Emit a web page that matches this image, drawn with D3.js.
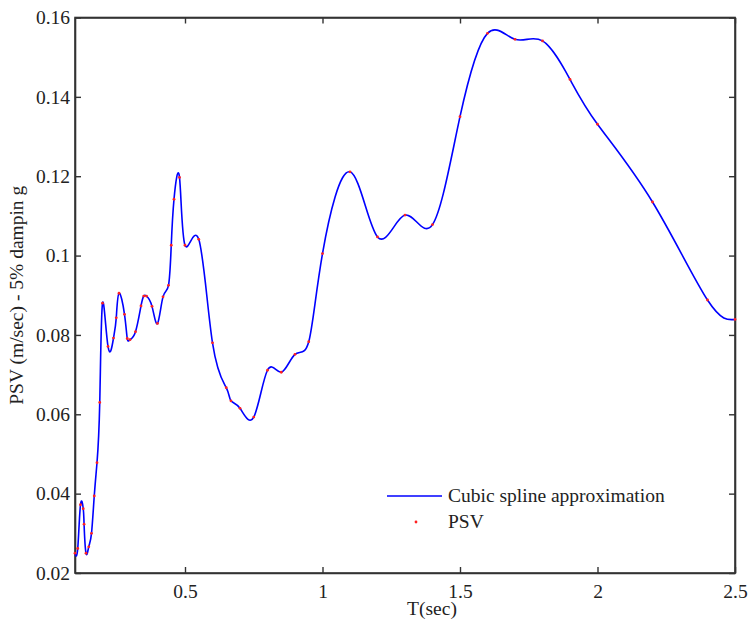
<!DOCTYPE html>
<html>
<head>
<meta charset="utf-8">
<script src="https://cdn.jsdelivr.net/npm/d3@7"></script>
<style>
  body { margin: 0; background: #fff; }
  text { font-family: "Liberation Serif", "Times New Roman", serif; fill: #222; }
</style>
</head>
<body>
<div id="chart-area"></div>
<script>
// period (sec) and pseudo spectral velocity (m/sec), 5% damping
const periods = [0.1, 0.11, 0.12, 0.13, 0.133, 0.14, 0.15, 0.16, 0.17, 0.18, 0.19,
  0.2, 0.22, 0.24, 0.25, 0.26, 0.28, 0.29, 0.3, 0.32, 0.34, 0.35, 0.36, 0.38, 0.4,
  0.42, 0.44, 0.45, 0.46, 0.48, 0.5, 0.55, 0.6, 0.65, 0.667, 0.7, 0.75, 0.8, 0.85,
  0.9, 0.95, 1, 1.1, 1.2, 1.3, 1.4, 1.5, 1.6, 1.7, 1.8, 1.9, 2, 2.2, 2.4, 2.5]
const psv = [0.025, 0.0262, 0.0372, 0.0362, 0.0323, 0.025, 0.0266, 0.030, 0.0394, 0.0478, 0.063,
  0.088, 0.0771, 0.0792, 0.0843, 0.0905, 0.0852, 0.0791, 0.0788, 0.0808, 0.0873, 0.0898, 0.0898, 0.0872, 0.0829,
  0.0896, 0.0925, 0.1026, 0.1142, 0.1197, 0.1026, 0.1041, 0.078, 0.0667, 0.0634, 0.0615, 0.0593, 0.0711, 0.0706,
  0.0751, 0.0783, 0.1005, 0.1211, 0.1047, 0.1102, 0.1078, 0.135, 0.156, 0.1545, 0.1541, 0.1444, 0.1331, 0.1135, 0.0888, 0.0839]

const xTicks = [0.5, 1, 1.5, 2, 2.5]
const yTicks = [0.02, 0.04, 0.06, 0.08, 0.1, 0.12, 0.14, 0.16]
const legendLabels = ["Cubic spline approximation", "PSV"]

const MARGIN = { LEFT: 75, RIGHT: 15, TOP: 17.5, BOTTOM: 48 }
const WIDTH = 750 - MARGIN.LEFT - MARGIN.RIGHT
const HEIGHT = 621 - MARGIN.TOP - MARGIN.BOTTOM
const TICK = 6
const FONT = 19.5

const data = periods.map((t, i) => ({ t: t, v: psv[i] }))

const svg = d3.select("#chart-area").append("svg")
  .attr("width", 750)
  .attr("height", 621)

const g = svg.append("g")
  .attr("transform", `translate(${MARGIN.LEFT}, ${MARGIN.TOP})`)

// scales
const x = d3.scaleLinear().domain([0.1, 2.5]).range([0, WIDTH])
const y = d3.scaleLinear().domain([0.02, 0.16]).range([HEIGHT, 0])

const fmt = d => String(d)

// axes, ticks pointing inwards on all four sides
g.append("g")
  .attr("transform", `translate(0, ${HEIGHT})`)
  .call(d3.axisBottom(x).tickValues(xTicks).tickSizeInner(-TICK).tickSizeOuter(0).tickPadding(11).tickFormat(fmt))
g.append("g")
  .call(d3.axisTop(x).tickValues(xTicks).tickSizeInner(-TICK).tickSizeOuter(0).tickFormat(""))
g.append("g")
  .call(d3.axisLeft(y).tickValues(yTicks).tickSizeInner(-TICK).tickSizeOuter(0).tickPadding(5).tickFormat(fmt))
g.append("g")
  .attr("transform", `translate(${WIDTH}, 0)`)
  .call(d3.axisRight(y).tickValues(yTicks).tickSizeInner(-TICK).tickSizeOuter(0).tickFormat(""))

g.selectAll(".domain").attr("stroke", "#333").attr("stroke-width", 1.6)
g.selectAll(".tick line").attr("stroke", "#333").attr("stroke-width", 1.4)
g.selectAll(".tick text").attr("font-size", FONT).attr("fill", "#222")
  .attr("font-family", "Liberation Serif, serif")

// box
g.append("rect")
  .attr("width", WIDTH)
  .attr("height", HEIGHT)
  .attr("fill", "none")
  .attr("stroke", "#333")
  .attr("stroke-width", 1.6)

// axis labels
g.append("text")
  .attr("x", 432 - MARGIN.LEFT)
  .attr("y", HEIGHT + 42)
  .attr("text-anchor", "middle")
  .attr("font-size", FONT)
  .text("T(sec)")

g.append("text")
  .attr("transform", `translate(-52, ${HEIGHT / 2}) rotate(-90)`)
  .attr("text-anchor", "middle")
  .attr("font-size", FONT)
  .text("PSV (m/sec) - 5% dampin g")

// spline through the spectral points
const line = d3.line()
  .x(d => x(d.t))
  .y(d => y(d.v))
  .curve(d3.curveNatural)

g.append("path")
  .attr("fill", "none")
  .attr("stroke", "#0000ff")
  .attr("stroke-width", 1.6)
  .attr("d", line(data))

g.selectAll(".pt")
  .data(data)
  .enter().append("circle")
  .attr("class", "pt")
  .attr("cx", d => x(d.t))
  .attr("cy", d => y(d.v))
  .attr("r", 1.4)
  .attr("fill", "#ff2020")

// legend
const legend = g.append("g").attr("transform", `translate(${387 - MARGIN.LEFT}, ${496 - MARGIN.TOP})`)
legend.append("line")
  .attr("x1", 0).attr("x2", 55)
  .attr("stroke", "#0000ff").attr("stroke-width", 1.6)
legend.append("circle")
  .attr("cx", 29).attr("cy", 26).attr("r", 1.4)
  .attr("fill", "#ff2020")
legend.selectAll(".lbl")
  .data(legendLabels)
  .enter().append("text")
  .attr("class", "lbl")
  .attr("x", 61)
  .attr("y", (d, i) => 6 + i * 26)
  .attr("font-size", FONT)
  .text(d => d)
</script>
</body>
</html>
